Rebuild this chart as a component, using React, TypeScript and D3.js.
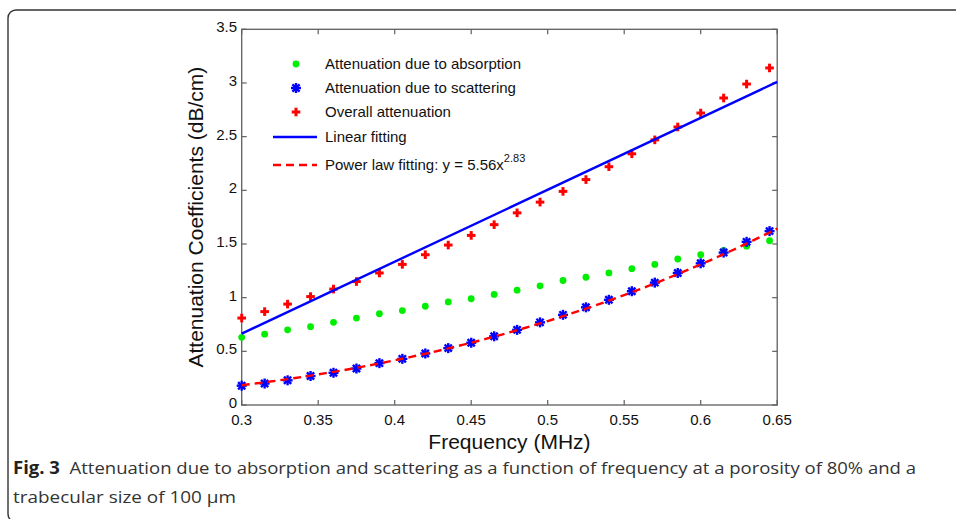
import React from "react";
import * as d3 from "d3";

const freq = [0.3, 0.315, 0.33, 0.345, 0.36, 0.375, 0.39, 0.405, 0.42, 0.435, 0.45, 0.465, 0.48, 0.495, 0.51, 0.525, 0.54, 0.555, 0.57, 0.585, 0.6, 0.615, 0.63, 0.645];
const absorption = [0.63, 0.66, 0.70, 0.73, 0.77, 0.81, 0.85, 0.88, 0.92, 0.96, 0.99, 1.03, 1.07, 1.11, 1.16, 1.19, 1.23, 1.27, 1.31, 1.36, 1.40, 1.44, 1.48, 1.53];
const scattering = [0.18, 0.20, 0.23, 0.27, 0.30, 0.34, 0.39, 0.43, 0.48, 0.53, 0.58, 0.64, 0.70, 0.77, 0.84, 0.91, 0.98, 1.06, 1.14, 1.23, 1.32, 1.42, 1.52, 1.62];
const overall = [0.81, 0.87, 0.94, 1.01, 1.08, 1.15, 1.23, 1.31, 1.40, 1.49, 1.58, 1.68, 1.79, 1.89, 1.99, 2.10, 2.22, 2.34, 2.47, 2.59, 2.72, 2.86, 2.99, 3.14];
const linearFitX = [0.3, 0.65];
const linearFitY = [0.665, 3.01];
const powerCoef = 5.56;
const powerExp = 2.83;
const xTicks = [0.3, 0.35, 0.4, 0.45, 0.5, 0.55, 0.6, 0.65];
const xTickLabels = ["0.3", "0.35", "0.4", "0.45", "0.5", "0.55", "0.6", "0.65"];
const yTicks = [0, 0.5, 1, 1.5, 2, 2.5, 3, 3.5];
const yTickLabels = ["0", "0.5", "1", "1.5", "2", "2.5", "3", "3.5"];
const legendLabels = [
  "Attenuation due to absorption",
  "Attenuation due to scattering",
  "Overall attenuation",
  "Linear fitting",
  "Power law fitting: y = 5.56x",
];

const W = 956;
const H = 519;
const GREEN = "#00ee00";
const BLUE = "#0000ff";
const RED = "#ff0000";
const AXIS = "#5f5f5f";
const FONT = "'Liberation Sans', Arial, sans-serif";

const x = d3.scaleLinear().domain([0.3, 0.65]).range([241.7, 777.2]);
const y = d3.scaleLinear().domain([0, 3.5]).range([405, 29.3]);

const Plus = ({ cx, cy, s = 4.3 }: { cx: number; cy: number; s?: number }) => (
  <g stroke={RED} strokeWidth={3}>
    <line x1={cx - s} y1={cy} x2={cx + s} y2={cy} />
    <line x1={cx} y1={cy - s} x2={cx} y2={cy + s} />
  </g>
);

const Star = ({ cx, cy, s = 5 }: { cx: number; cy: number; s?: number }) => {
  const d = s * 0.72;
  return (
    <g stroke={BLUE} strokeWidth={2.4}>
      <line x1={cx - s} y1={cy} x2={cx + s} y2={cy} />
      <line x1={cx} y1={cy - s} x2={cx} y2={cy + s} />
      <line x1={cx - d} y1={cy - d} x2={cx + d} y2={cy + d} />
      <line x1={cx - d} y1={cy + d} x2={cx + d} y2={cy - d} />
    </g>
  );
};

export default function App() {
  const [x0, x1] = x.range();
  const [yb, yt] = y.range();
  const line = d3
    .line<[number, number]>()
    .x((d) => x(d[0]))
    .y((d) => y(d[1]));
  const powerPts: [number, number][] = d3
    .range(0.3, 0.6501, 0.005)
    .map((f) => [f, powerCoef * Math.pow(f, powerExp)]);
  const linPts: [number, number][] = linearFitX.map((f, i) => [f, linearFitY[i]]);

  const legX = 296;
  const legText = 325;
  const legY = [64, 88, 112, 137, 165];

  return (
    <svg
      width={W}
      height={H}
      viewBox={`0 0 ${W} ${H}`}
      style={{ position: "absolute", left: 0, top: 0, background: "#fff" }}
    >
      <rect x={0} y={0} width={W} height={H} fill="#fff" />
      {/* outer frame */}
      <rect x={8} y={10} width={1000} height={512} rx={8} ry={8} fill="none" stroke="#333" strokeWidth={1.4} />

      {/* axes box */}
      <rect x={x0} y={yt} width={x1 - x0} height={yb - yt} fill="none" stroke={AXIS} strokeWidth={1.3} />
      {xTicks.map((t, i) => (
        <g key={"xt" + i} stroke={AXIS} strokeWidth={1.2}>
          <line x1={x(t)} x2={x(t)} y1={yb} y2={yb - 5} />
          <line x1={x(t)} x2={x(t)} y1={yt} y2={yt + 5} />
        </g>
      ))}
      {yTicks.map((t, i) => (
        <g key={"yt" + i} stroke={AXIS} strokeWidth={1.2}>
          <line x1={x0} x2={x0 + 5} y1={y(t)} y2={y(t)} />
          <line x1={x1} x2={x1 - 5} y1={y(t)} y2={y(t)} />
        </g>
      ))}
      {xTicks.map((t, i) => (
        <text key={"xl" + i} x={x(t)} y={425} textAnchor="middle" fontFamily={FONT} fontSize={15} fill="#111">
          {xTickLabels[i]}
        </text>
      ))}
      {yTicks.map((t, i) => (
        <text key={"yl" + i} x={237} y={y(t) + 3} textAnchor="end" fontFamily={FONT} fontSize={15} fill="#111">
          {yTickLabels[i]}
        </text>
      ))}
      <text x={(x0 + x1) / 2} y={449} textAnchor="middle" fontFamily={FONT} fontSize={21} fill="#111">
        Frequency (MHz)
      </text>
      <text
        transform={`translate(203,${(yb + yt) / 2}) rotate(-90)`}
        textAnchor="middle"
        fontFamily={FONT}
        fontSize={21}
        fill="#111"
      >
        Attenuation Coefficients (dB/cm)
      </text>

      {/* data */}
      {freq.map((f, i) => (
        <circle key={"g" + i} cx={x(f)} cy={y(absorption[i])} r={3.4} fill={GREEN} />
      ))}
      {freq.map((f, i) => (
        <Star key={"b" + i} cx={x(f)} cy={y(scattering[i])} />
      ))}
      {freq.map((f, i) => (
        <Plus key={"r" + i} cx={x(f)} cy={y(overall[i])} />
      ))}
      <path d={line(linPts) || ""} fill="none" stroke={BLUE} strokeWidth={2.4} />
      <path d={line(powerPts) || ""} fill="none" stroke={RED} strokeWidth={2.4} strokeDasharray="8,5" />

      {/* legend */}
      <circle cx={legX} cy={legY[0]} r={3.4} fill={GREEN} />
      <Star cx={legX} cy={legY[1]} />
      <Plus cx={legX} cy={legY[2]} />
      <line x1={273} x2={317} y1={legY[3]} y2={legY[3]} stroke={BLUE} strokeWidth={2.4} />
      <line x1={273} x2={317} y1={legY[4]} y2={legY[4]} stroke={RED} strokeWidth={2.4} strokeDasharray="8,5" />
      {legendLabels.map((l, i) => (
        <text key={"lg" + i} x={legText} y={legY[i] + 5} fontFamily={FONT} fontSize={15} fill="#111">
          {l}
          {i === 4 ? (
            <tspan fontSize={11} dy={-8}>
              2.83
            </tspan>
          ) : null}
        </text>
      ))}

      {/* caption */}
      <text x={13} y={474} fontFamily="'Open Sans', 'Noto Sans', sans-serif" fontSize={17} fill="#333" textLength={903} lengthAdjust="spacingAndGlyphs">
        <tspan fontWeight="bold" fill="#222">Fig. 3</tspan>
        <tspan>{"\u00a0\u00a0Attenuation due to absorption and scattering as a function of frequency at a porosity of 80% and a"}</tspan>
      </text>
      <text x={13} y={503} fontFamily="'Open Sans', 'Noto Sans', sans-serif" fontSize={17} fill="#333" textLength={223} lengthAdjust="spacingAndGlyphs">
        trabecular size of 100 μm
      </text>
    </svg>
  );
}
